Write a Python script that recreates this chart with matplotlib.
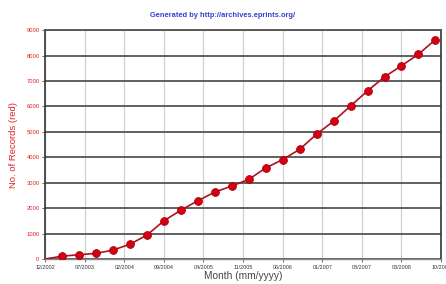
import matplotlib
matplotlib.use('Agg')
import matplotlib.pyplot as plt

# months since 12/2002, records (red)
months = [0, 3, 6, 9, 12, 15, 18, 21, 24, 27, 30, 33, 36, 39, 42, 45, 48, 51, 54, 57, 60, 63, 66, 69]
records = [0, 110, 170, 220, 350, 580, 940, 1500, 1920, 2290, 2630, 2870, 3130, 3580, 3910, 4310, 4910, 5420, 6020, 6610, 7160, 7600, 8050, 8630]

tick_pos = [0, 7, 14, 21, 28, 35, 42, 49, 56, 63, 70]
tick_labels = ['12/2002', '07/2003', '02/2004', '09/2004', '04/2005', '11/2005',
               '06/2006', '01/2007', '08/2007', '03/2008', '10/2008']
yticks = [0, 1000, 2000, 3000, 4000, 5000, 6000, 7000, 8000, 9000]

plt.rcParams['font.family'] = ['Liberation Sans', 'DejaVu Sans']

fig = plt.figure(figsize=(4.46, 2.84), dpi=100)
ax = fig.add_axes([0.101, 0.088, 0.888, 0.806])

ax.plot(months, records, color='#b01020', lw=1.2, zorder=3)
ax.plot(months[1:], records[1:], 'o', ms=5.6, color='#d80010',
        mec='#a00010', mew=0.6, zorder=4)

ax.set_xlim(0, 70)
ax.set_ylim(0, 9000)
ax.set_xticks(tick_pos)
ax.set_xticklabels(tick_labels, fontsize=3.9, color='#333333')
ax.set_yticks(yticks)
ax.set_yticklabels([str(v) for v in yticks], fontsize=4.2, color='#dd2222')
ax.tick_params(axis='both', length=2.5, width=0.6, pad=1.5, color='#555555')

ax.yaxis.grid(True, color='#555555', lw=1.3)
ax.xaxis.grid(True, color='#d0d0d0', lw=0.9)
ax.set_axisbelow(True)

for s in ['left', 'right']:
    ax.spines[s].set_color('#333333')
    ax.spines[s].set_linewidth(1.2)
ax.spines['top'].set_color('#555555')
ax.spines['top'].set_linewidth(1.3)
ax.spines['bottom'].set_color('#888888')
ax.spines['bottom'].set_linewidth(1.0)

ax.set_xlabel('Month (mm/yyyy)', fontsize=7.3, color='#444444', labelpad=1)
ax.set_ylabel('No. of Records (red)', fontsize=6.8, color='#dd2222', labelpad=6)

fig.text(0.5, 0.947, 'Generated by http://archives.eprints.org/', ha='center',
         va='center', fontsize=5.4, fontweight='bold', color='#3344cc')

fig.savefig('out.png', dpi=100)
